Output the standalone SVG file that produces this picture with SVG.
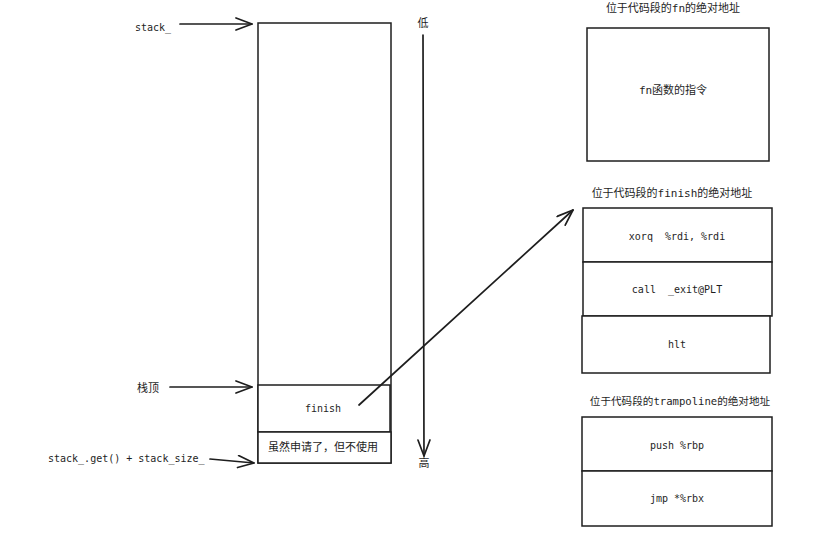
<svg xmlns="http://www.w3.org/2000/svg" width="816" height="550" viewBox="0 0 816 550">
<defs>
<marker id="arr" markerUnits="userSpaceOnUse" markerWidth="20" markerHeight="14" viewBox="0 0 20 14" refX="18" refY="7" orient="auto">
<path d="M2,1 L18,7 L2,13" fill="none" stroke="#1e1e1e" stroke-width="1.7" stroke-linecap="round" stroke-linejoin="round"/>
</marker>
<style>
.box{fill:#fff;stroke:#1e1e1e;stroke-width:1.5}
.ln{fill:none;stroke:#1e1e1e;stroke-width:1.7;stroke-linecap:round}
.t{font-family:"DejaVu Sans Mono","Noto Sans CJK SC",monospace;font-size:10px;fill:#1e1e1e;white-space:pre}
.c{font-family:"DejaVu Sans Mono","Noto Sans CJK SC",monospace;font-size:11px;fill:#1e1e1e}
.m{text-anchor:middle;dominant-baseline:central}
</style>
</defs>
<rect width="816" height="550" fill="#fff"/>

<g id="stack">
<rect class="box" x="258" y="23" width="133" height="440"/>
</g>
<g id="finish-slot">
<rect class="box" x="258" y="385" width="132" height="47"/>
<text class="t m" x="323" y="408">finish</text>
</g>
<g id="unused-slot">
<rect class="box" x="258" y="432" width="133" height="31"/>
<text class="c m" x="323" y="447">虽然申请了，但不使用</text>
</g>

<g id="label-stack">
<text class="t" x="135" y="31">stack_</text>
</g>
<g id="label-top">
<text class="c" x="137" y="392">栈顶</text>
</g>
<g id="label-end">
<text class="t" x="48" y="462">stack_.get() + stack_size_</text>
</g>
<g id="label-low">
<text class="c m" x="423" y="23">低</text>
</g>
<g id="label-high">
<text class="c m" x="424" y="463">高</text>
</g>

<g id="fn">
<text class="c m" x="673" y="8">位于代码段的fn的绝对地址</text>
<rect class="box" x="587" y="28" width="182" height="133"/>
<text class="c m" x="673" y="90">fn函数的指令</text>
</g>

<g id="finish-code">
<text class="c m" x="672" y="193">位于代码段的finish的绝对地址</text>
<rect class="box" x="583" y="208" width="189" height="54"/>
<text class="t m" x="677" y="236" xml:space="preserve">xorq  %rdi, %rdi</text>
<rect class="box" x="583" y="262" width="189" height="54"/>
<text class="t m" x="677" y="289" xml:space="preserve">call  _exit@PLT</text>
<rect class="box" x="582" y="316" width="188" height="57"/>
<text class="t m" x="677" y="344">hlt</text>
</g>

<g id="trampoline">
<text class="c m" x="680" y="401" style="font-size:10.6px">位于代码段的trampoline的绝对地址</text>
<rect class="box" x="582" y="417" width="190" height="54"/>
<text class="t m" x="677" y="445">push %rbp</text>
<rect class="box" x="582" y="471" width="190" height="55"/>
<text class="t m" x="677" y="498">jmp *%rbx</text>
</g>

<g id="connectors">
<line class="ln" x1="180" y1="24" x2="252" y2="24" marker-end="url(#arr)"/>
<line class="ln" x1="170" y1="387" x2="252" y2="387" marker-end="url(#arr)"/>
<line class="ln" x1="210" y1="459" x2="254" y2="463" marker-end="url(#arr)"/>
<line class="ln" x1="423" y1="35" x2="424" y2="456" marker-end="url(#arr)"/>
<line class="ln" x1="359" y1="405" x2="573" y2="210" marker-end="url(#arr)"/>
</g>
</svg>
